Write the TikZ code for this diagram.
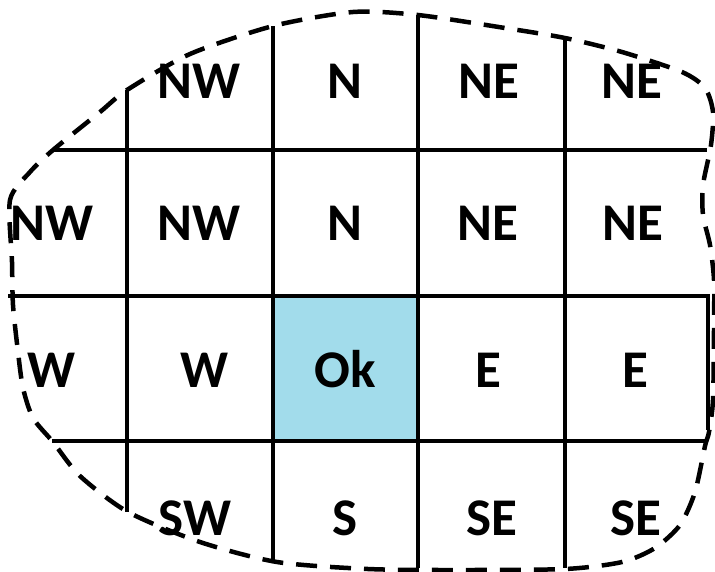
\documentclass[tikz,border=0pt]{standalone}
\usepackage{fontspec}
\setmainfont{Carlito}
\definecolor{okblue}{HTML}{A2DCEB}
\begin{document}
\begin{tikzpicture}[x=1pt,y=-1pt,
  gridline/.style={line width=4.5pt,black},
  boundary/.style={line width=4.5pt,black,dash pattern=on 21pt off 13pt},
  lbl/.style={font=\fontsize{53}{60}\selectfont\bfseries,inner sep=0pt,anchor=base}]
\useasboundingbox (0,0) rectangle (715,571);
% highlighted cell
\fill[okblue] (273,296) rectangle (418,440);
% grid
\draw[gridline] (127,90) -- (127,512);
\draw[gridline] (273,26) -- (273,562);
\draw[gridline] (418,15) -- (418,568);
\draw[gridline] (565,38) -- (565,568);
\draw[gridline] (53,150) -- (707,150);
\draw[gridline] (8,296) -- (708,296) -- (708,430);
\draw[gridline] (52,441) -- (705,441);
% dashed boundary
\draw[boundary] plot[smooth cycle,tension=0.45] coordinates {
 (53,150) (100,112) (127,90) (190,54) (273,26) (353,12) (418,15) (505,28)
 (565,38) (622,52) (682,72) (705,88) (713,112) (711,145) (703,185) (703,215)
 (710,245) (714,280) (714,330) (713,400) (709,432) (705,446) (695,492)
 (680,525) (655,548) (622,562) (565,569) (455,570) (368,569) (277,562)
 (200,542) (128,512) (80,476) (53,442) (33,418) (23,388) (18,352) (13,305)
 (12,262) (10,200) (30,172)};
% labels (base line positions)
\node[lbl] (r1c1) at (199,98) {NW};
\node[lbl] (r1c2) at (345,98) {N};
\node[lbl] (r1c3) at (489,98) {NE};
\node[lbl] (r1c4) at (632,98) {NE};
\node[lbl] (r2c0) at (52,240) {NW};
\node[lbl] (r2c1) at (199,240) {NW};
\node[lbl] (r2c2) at (345,240) {N};
\node[lbl] (r2c3) at (488,240) {NE};
\node[lbl] (r2c4) at (633,240) {NE};
\node[lbl] (r3c0) at (52,387) {W};
\node[lbl] (r3c1) at (205,387) {W};
\node[lbl] (ok) at (345,387) {Ok};
\node[lbl] (r3c3) at (488,387) {E};
\node[lbl] (r3c4) at (635,387) {E};
\node[lbl] (r4c1) at (195,535) {SW};
\node[lbl] (r4c2) at (345,535) {S};
\node[lbl] (r4c3) at (492,535) {SE};
\node[lbl] (r4c4) at (636,535) {SE};
\end{tikzpicture}
\end{document}
